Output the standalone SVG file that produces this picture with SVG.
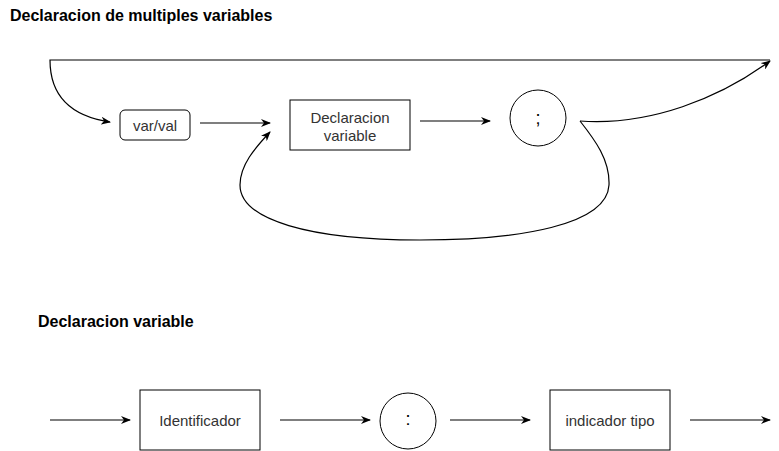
<svg xmlns="http://www.w3.org/2000/svg" width="779" height="451" viewBox="0 0 779 451">
<defs>
<style>
.t{font-family:"Liberation Sans",Arial,sans-serif;font-size:15px;fill:#333;text-anchor:middle;dominant-baseline:central}
.p{font-family:"Liberation Sans",Arial,sans-serif;font-size:18px;fill:#000;text-anchor:middle}
.h{font-family:"Liberation Sans",Arial,sans-serif;font-size:16px;font-weight:bold;fill:#000}
.n{fill:#fff;stroke:#000;stroke-width:1}
.e{fill:none;stroke:#000;stroke-width:1.2;marker-end:url(#a)}
</style>
<marker id="a" viewBox="0 0 10 8" refX="9" refY="4" markerWidth="10" markerHeight="8" markerUnits="userSpaceOnUse" orient="auto">
<path d="M0,0 L10,4 L0,8 L3,4 Z" fill="#000"/>
</marker>
</defs>
<rect width="779" height="451" fill="#fff"/>
<text class="h" x="10" y="21">Declaracion de multiples variables</text>
<text class="h" x="38" y="327">Declaracion variable</text>
<g id="connectors">
<path class="e" d="M770,60 L50,60 Q50,113 110,122"/>
<path class="e" d="M200,123 L270,123"/>
<path class="e" d="M420,121 L490,121"/>
<path class="e" d="M580,121 C650,126 720,98 770,61"/>
<path class="e" d="M580,121 C595,140 610,160 609,185 C607,225 520,240 420,240 C310,240 240,220 240,185 C240,165 255,148 270,132"/>
<path class="e" d="M50,420 L130,420"/>
<path class="e" d="M280,420 L370,420"/>
<path class="e" d="M450,420 L530,420"/>
<path class="e" d="M690,420 L770,420"/>
</g>
<g id="varval"><rect class="n" x="120" y="110" width="70" height="30" rx="5"/><text class="t" x="155" y="125">var/val</text></g>
<g id="declvar"><rect class="n" x="290" y="100" width="120" height="50"/><text class="t" x="350" y="117">Declaracion</text><text class="t" x="350" y="135">variable</text></g>
<g id="semicolon"><circle class="n" cx="538" cy="118" r="28"/><text class="p" x="538" y="124">;</text></g>
<g id="identificador"><rect class="n" x="140" y="390" width="120" height="60"/><text class="t" x="200" y="420">Identificador</text></g>
<g id="colon"><circle class="n" cx="408" cy="421" r="28"/><text class="p" x="408" y="425">:</text></g>
<g id="tipo"><rect class="n" x="550" y="390" width="120" height="60"/><text class="t" x="610" y="420">indicador tipo</text></g>
</svg>
